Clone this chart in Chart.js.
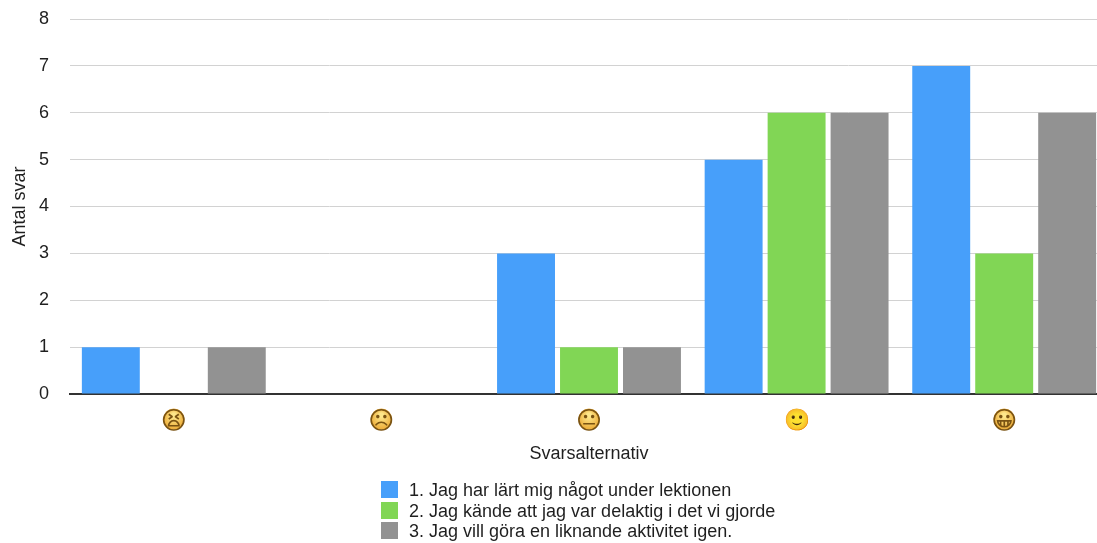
<!DOCTYPE html>
<html>
<head>
<meta charset="utf-8">
<style>
  html, body { margin: 0; padding: 0; background: #fff; overflow: hidden; }
  #wrap { position: relative; width: 1108px; height: 543px; }
  #legend { position: absolute; left: 381px; top: 480px; font: 18px/20.5px 'Liberation Sans', Arial, sans-serif; color: #1f1f1f; white-space: nowrap; }
  #legend div { height: 20.5px; }
  #legend span { display: inline-block; width: 17px; height: 17px; margin-right: 11px; vertical-align: -2px; }
</style>
</head>
<body>
<div id="wrap"><canvas id="chart"></canvas><div id="legend"></div></div>
<script src="https://cdn.jsdelivr.net/npm/chart.js@4"></script>
<script>
var categories = ["😫", "☹", "😐", "🙂", "😀"];
var series1 = [1, 0, 3, 5, 7];
var series2 = [0, 0, 1, 6, 3];
var series3 = [1, 0, 1, 6, 6];
var seriesNames = [
  "1. Jag har lärt mig något under lektionen",
  "2. Jag kände att jag var delaktig i det vi gjorde",
  "3. Jag vill göra en liknande aktivitet igen."
];
var emojiSizes = [25, 25, 25, 21, 25]; // the smile comes out bigger at the same size
var fontName = "'Liberation Sans', Arial, sans-serif";

// yellow disc behind each emoji tick, the installed glyphs have no fill
var emojiDiscs = {
  id: "emojiDiscs",
  beforeDraw: function (chart) {
    var ctx = chart.ctx;
    var x = chart.scales.x;
    var y = x.top + 25;
    ctx.save();
    x.ticks.forEach(function (t, i) {
      var px = x.getPixelForTick(i);
      var g = ctx.createRadialGradient(px, y - 4, 2, px, y, 11);
      g.addColorStop(0, "#fde68a");
      g.addColorStop(1, "#ecaa35");
      ctx.fillStyle = g;
      ctx.beginPath();
      ctx.arc(px, y, 10.5, 0, Math.PI * 2);
      ctx.fill();
    });
    ctx.restore();
  }
};

var chart = new Chart(document.getElementById("chart"), {
  type: "bar",
  plugins: [emojiDiscs],
  data: {
    labels: categories,
    datasets: [
      { label: seriesNames[0], data: series1, backgroundColor: "#479ffa" },
      { label: seriesNames[1], data: series2, backgroundColor: "#81d655" },
      { label: seriesNames[2], data: series3, backgroundColor: "#929292" }
    ]
  },
  options: {
    responsive: true,
    maintainAspectRatio: false,
    animation: false,
    layout: { padding: { top: 19, left: 0, right: 0, bottom: 78 } },
    datasets: { bar: { categoryPercentage: 0.91, barPercentage: 0.92 } },
    plugins: {
      tooltip: { enabled: false },
      legend: { display: false }
    },
    scales: {
      x: {
        afterFit: function (scale) { scale.height = 71; },
        grid: { display: false },
        border: { color: "#333", width: 2 },
        ticks: {
          color: "#7a5312",
          padding: 5,
          maxRotation: 0,
          font: function (c) { return { family: "'DejaVu Sans'", size: emojiSizes[c.index], lineHeight: "30px" }; }
        },
        title: { display: true, text: "Svarsalternativ", color: "#1f1f1f", padding: { top: 0, bottom: 0 }, font: { family: fontName, size: 18 } }
      },
      y: {
        min: 0,
        max: 8,
        afterFit: function (scale) { scale.width = 70; scale.paddingTop = 0; scale.paddingBottom = 0; },
        grid: { color: "#d2d2d2", drawTicks: false },
        border: { display: false },
        ticks: { stepSize: 1, color: "#1f1f1f", padding: 21, font: { family: fontName, size: 18 } },
        title: { display: true, text: "Antal svar", color: "#1f1f1f", padding: { top: 9, bottom: 0 }, font: { family: fontName, size: 18 } }
      }
    }
  }
});

// legend stacked under the x title, same as the source picture
var legendBox = document.getElementById("legend");
chart.data.datasets.forEach(function (ds) {
  var row = document.createElement("div");
  var swatch = document.createElement("span");
  swatch.style.background = ds.backgroundColor;
  row.appendChild(swatch);
  row.appendChild(document.createTextNode(ds.label));
  legendBox.appendChild(row);
});
</script>
</body>
</html>
